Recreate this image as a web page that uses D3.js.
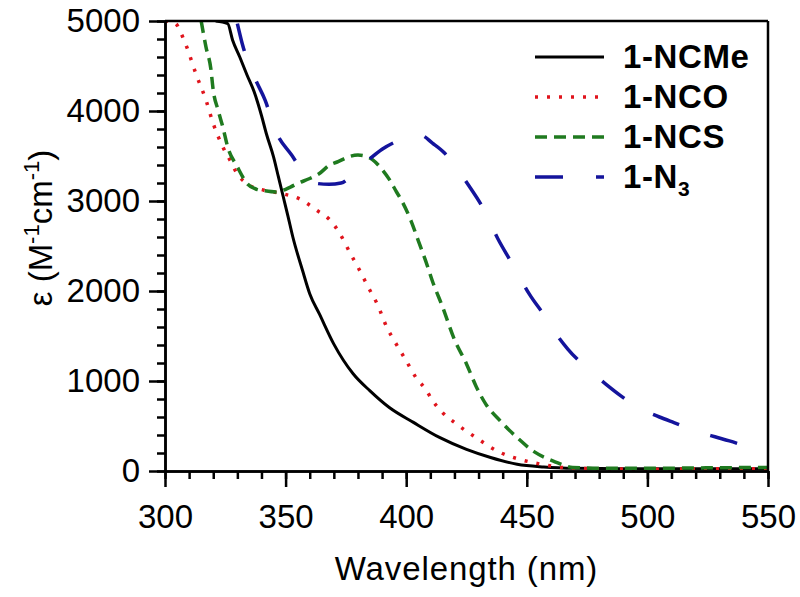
<!DOCTYPE html>
<html>
<head>
<meta charset="utf-8">
<script src="https://cdn.jsdelivr.net/npm/d3@7"></script>
<style>
  html, body { margin: 0; padding: 0; background: #fff; }
  svg { display: block; }
  text { font-family: "Liberation Sans", Arial, sans-serif; fill: #000; }
</style>
</head>
<body>
<svg id="chart" width="800" height="597"></svg>
<script>
// ---------- data ----------
const xMajorTicks = [300, 350, 400, 450, 500, 550];
const yMajorTicks = [0, 1000, 2000, 3000, 4000, 5000];

const seriesNames = ["1-NCMe", "1-NCO", "1-NCS", "1-N3"];

const ncmeWl  = [321, 326, 328, 331, 334, 337, 340, 342, 345, 347, 349, 351, 353, 357, 360, 364, 370, 378, 385, 393, 403, 414, 425, 435, 446, 457, 470, 490, 520, 550];
const ncmeEps = [5000, 4970, 4790, 4600, 4400, 4210, 3950, 3750, 3490, 3270, 3050, 2830, 2600, 2230, 1970, 1745, 1410, 1080, 890, 705, 540, 370, 240, 150, 75, 45, 30, 25, 25, 25];

const ncoWl  = [300, 304, 308, 313, 317, 320, 324, 327, 330, 335, 341, 348, 356, 363, 368, 372, 377, 380, 385, 388, 392, 395, 400, 404, 408, 411, 415, 420, 429, 439, 447, 456, 465, 480, 500, 525, 550];
const ncoEps = [5000, 4980, 4780, 4400, 4120, 3860, 3600, 3450, 3300, 3175, 3120, 3085, 3020, 2895, 2800, 2660, 2410, 2265, 2005, 1855, 1595, 1450, 1225, 1040, 910, 780, 650, 540, 370, 205, 130, 75, 40, 25, 20, 25, 25];

const ncsWl  = [315, 317, 319, 320, 322, 324, 326, 330, 334, 338, 341, 346, 352, 355, 360, 364, 368, 372, 376, 380, 383, 386, 390, 393, 396, 398, 402, 405, 408, 411, 415, 420, 425, 429, 433, 439, 446, 453, 461, 469, 480, 500, 525, 550];
const ncsEps = [5000, 4710, 4470, 4230, 4010, 3820, 3600, 3380, 3195, 3130, 3115, 3100, 3155, 3195, 3250, 3305, 3395, 3440, 3490, 3510, 3500, 3460, 3350, 3240, 3100, 3010, 2780, 2560, 2340, 2100, 1830, 1460, 1190, 940, 743, 557, 371, 215, 111, 40, 30, 30, 35, 40];

const n3Wl  = [330, 332, 337, 341.5, 346, 352.5, 358, 363, 368, 373, 379, 385, 390, 395, 400, 406, 411, 416, 421, 426, 432, 438, 444, 451, 458, 462, 467, 477, 483, 489, 499, 505, 511, 522, 528, 534, 545, 550];
const n3Eps = [4970, 4750, 4380, 4120, 3770, 3510, 3300, 3195, 3185, 3200, 3330, 3470, 3575, 3650, 3700, 3730, 3640, 3530, 3360, 3170, 2915, 2580, 2300, 1968, 1700, 1530, 1355, 1095, 960, 835, 668, 600, 538, 427, 380, 334, 241, 205];

// ---------- layout ----------
const svg = d3.select("#chart");
const pLeft = 165, pRight = 768, pTop = 21, pBottom = 471;

const x = d3.scaleLinear().domain([300, 550]).range([pLeft, pRight]);
const y = d3.scaleLinear().domain([0, 5000]).range([pBottom, pTop]);

const xMinor = d3.range(300, 551, 10);
const yMinor = d3.range(0, 5001, 200);

// clip
svg.append("defs").append("clipPath").attr("id", "plotclip")
  .append("rect").attr("x", pLeft).attr("y", pTop - 1).attr("width", pRight - pLeft).attr("height", pBottom - pTop + 1);

// ---------- series ----------
const series = [
  { name: seriesNames[0], wl: ncmeWl, eps: ncmeEps, color: "#000000", width: 3,   dash: null },
  { name: seriesNames[1], wl: ncoWl,  eps: ncoEps,  color: "#e0141c", width: 3.5, dash: "3,9" },
  { name: seriesNames[2], wl: ncsWl,  eps: ncsEps,  color: "#1f7a1f", width: 3.5, dash: "12,7" },
  { name: seriesNames[3], wl: n3Wl,   eps: n3Eps,   color: "#14149c", width: 3.5, dash: "28,33" }
];

const line = d3.line()
  .x(d => x(d[0]))
  .y(d => y(d[1]))
  .curve(d3.curveMonotoneX);

const plot = svg.append("g").attr("clip-path", "url(#plotclip)");
series.forEach(s => {
  const pts = s.wl.map((w, i) => [w, s.eps[i]]);
  plot.append("path")
    .attr("d", line(pts))
    .attr("fill", "none")
    .attr("stroke", s.color)
    .attr("stroke-width", s.width)
    .attr("stroke-dasharray", s.dash)
    .attr("stroke-linejoin", "round");
});

// ---------- axes ----------
const axisStroke = 2.5;
function styleAxis(g) {
  g.selectAll("path.domain").attr("stroke", "#000").attr("stroke-width", axisStroke);
  g.selectAll(".tick line").attr("stroke", "#000").attr("stroke-width", axisStroke);
  g.selectAll("text").attr("font-size", 33).attr("fill", "#000")
    .attr("font-family", '"Liberation Sans", Arial, sans-serif');
}

// minor ticks
svg.append("g").attr("transform", `translate(0,${pBottom})`)
  .call(d3.axisBottom(x).tickValues(xMinor).tickSize(8).tickFormat("").tickSizeOuter(0))
  .call(styleAxis);
svg.append("g").attr("transform", `translate(${pLeft},0)`)
  .call(d3.axisLeft(y).tickValues(yMinor).tickSize(8).tickFormat("").tickSizeOuter(0))
  .call(styleAxis);

// major ticks with labels
svg.append("g").attr("transform", `translate(0,${pBottom})`)
  .call(d3.axisBottom(x).tickValues(xMajorTicks).tickSize(16).tickPadding(18).tickFormat(d3.format("d")).tickSizeOuter(0))
  .call(styleAxis);
svg.append("g").attr("transform", `translate(${pLeft},0)`)
  .call(d3.axisLeft(y).tickValues(yMajorTicks).tickSize(16).tickPadding(9).tickFormat(d3.format("d")).tickSizeOuter(0))
  .call(styleAxis);

// frame top & right
svg.append("line").attr("x1", pLeft).attr("x2", pRight).attr("y1", pTop).attr("y2", pTop)
  .attr("stroke", "#000").attr("stroke-width", axisStroke);
svg.append("line").attr("x1", pRight).attr("x2", pRight).attr("y1", pTop).attr("y2", pBottom)
  .attr("stroke", "#000").attr("stroke-width", axisStroke);

// ---------- axis titles ----------
svg.append("text")
  .attr("x", (pLeft + pRight) / 2).attr("y", 580)
  .attr("text-anchor", "middle").attr("font-size", 33).attr("letter-spacing", 0.9)
  .text("Wavelength (nm)");

const yt = svg.append("text")
  .attr("transform", "translate(52,228) rotate(-90)")
  .attr("text-anchor", "middle").attr("font-size", 33);
yt.append("tspan").text("ε (M");
yt.append("tspan").attr("font-size", 22).attr("dy", -13).text("-1");
yt.append("tspan").attr("dy", 13).text("cm");
yt.append("tspan").attr("font-size", 22).attr("dy", -13).text("-1");
yt.append("tspan").attr("dy", 13).text(")");

// ---------- legend ----------
const legendRowY = [57, 97, 137, 177];
const lg = svg.append("g");
series.forEach((s, i) => {
  const yy = legendRowY[i];
  lg.append("line")
    .attr("x1", 535).attr("x2", 604).attr("y1", yy).attr("y2", yy)
    .attr("stroke", s.color).attr("stroke-width", s.width)
    .attr("stroke-dasharray", s.dash);
  const t = lg.append("text")
    .attr("x", 623).attr("y", yy + 11)
    .attr("font-size", 33).attr("font-weight", "bold").attr("letter-spacing", 0.6);
  if (s.name === "1-N3") {
    t.append("tspan").text("1-N");
    t.append("tspan").attr("font-size", 21).attr("dy", 8).text("3");
  } else {
    t.text(s.name);
  }
});
</script>
</body>
</html>
